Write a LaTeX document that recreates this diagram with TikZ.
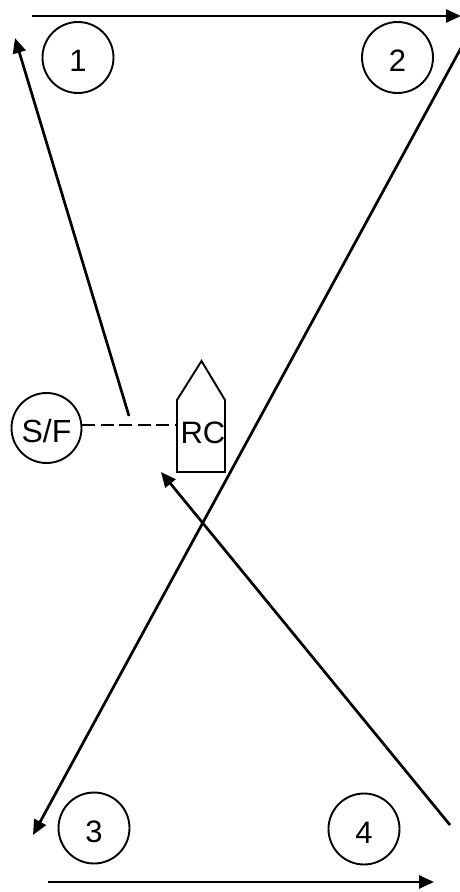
\documentclass[tikz,border=0pt]{standalone}
\usepackage{fontspec}
\setmainfont{Liberation Sans}
\usetikzlibrary{arrows.meta}
\begin{document}
\begin{tikzpicture}[x=1pt,y=-1pt,
  mark circle/.style={draw,circle,line width=1.9pt,minimum size=71pt,inner sep=0pt,
    text height=28pt,text depth=0pt,font=\fontsize{31}{33}\selectfont},
  sf circle/.style={draw,circle,line width=1.9pt,minimum size=70pt,inner sep=0pt,
    text height=28pt,text depth=0pt,font=\fontsize{32}{34}\selectfont},
  course/.style={line width=2.7pt,-{Triangle[length=15pt,width=13pt]}},
  dashline/.style={line width=1.9pt,dash pattern=on 13pt off 5.5pt},
  boat/.style={line width=1.9pt}]
\useasboundingbox (0,0) rectangle (460,892);
% marks
\node[mark circle] (m1) at (78,57.5) {1};
\node[mark circle] (m2) at (397.5,57.5) {2};
\node[mark circle] (m3) at (94,828) {3};
\node[mark circle] (m4) at (364,829) {4};
\node[sf circle] (sf) at (46.5,428) {S/F};
% boat
\draw[boat] (177,472) -- (177,400) -- (201.5,361) -- (225,400) -- (225,472) -- cycle;
\node[anchor=base,inner sep=0pt,font=\fontsize{31}{33}\selectfont] (rc) at (203,443) {RC};
\coordinate (rcleft) at (177,425);
% dashed start/finish line
\draw[dashline] (sf.east |- rcleft) -- (rcleft);
% course legs
\coordinate (t0) at (32,16);
\coordinate (t1) at (461,16);
\draw[course] (t0) -- (t1);
\coordinate (a0) at (129,416);
\coordinate (a1) at (15,38);
\draw[course] (a0) -- (a1);
\coordinate (b0) at (461,48);
\coordinate (b1) at (33,835);
\draw[course] (b0) -- (b1);
\coordinate (c0) at (450,825);
\coordinate (c1) at (161,472);
\draw[course] (c0) -- (c1);
\coordinate (d0) at (48,882);
\coordinate (d1) at (434,882);
\draw[course] (d0) -- (d1);
\end{tikzpicture}
\end{document}
